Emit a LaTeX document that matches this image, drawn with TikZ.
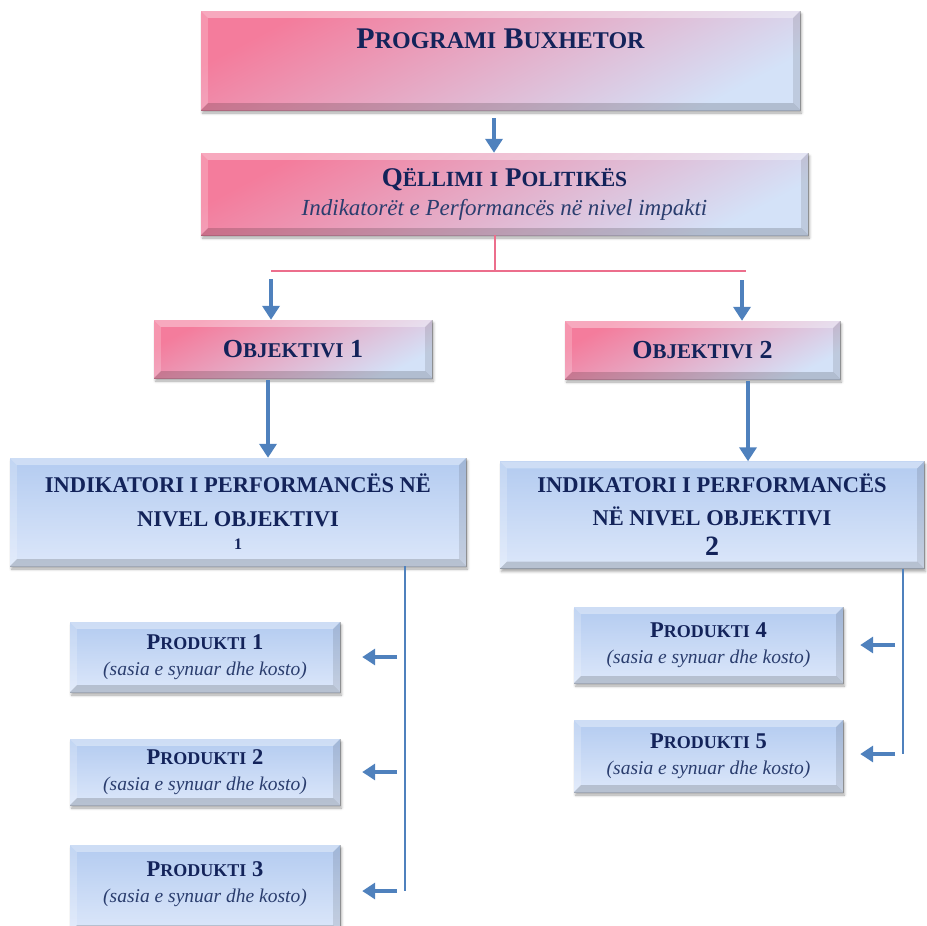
\documentclass[tikz,border=0pt]{standalone}
\usepackage{fontspec}
\setmainfont{Liberation Serif}
\usetikzlibrary{shadows.blur,calc,arrows.meta}
\definecolor{navy}{HTML}{13235A}
\definecolor{subnavy}{HTML}{2A3D6E}
\definecolor{pinkc}{HTML}{F47C9C}
\definecolor{pinkmid}{HTML}{E4A8C8}
\definecolor{lblue}{HTML}{D4E2F8}
\definecolor{tblue}{HTML}{B3CBF0}
\definecolor{bblue}{HTML}{DCE7FA}
\definecolor{arrowc}{HTML}{4F81BD}
\definecolor{linepink}{HTML}{EC6E8C}
\newcommand\scsz{20}
\newcommand\sw[2]{#1{\fontsize{\scsz}{\scsz}\selectfont #2}}
\newcommand\bevel[1]{%
  \fill[white,opacity=.35] (#1.north west) -- (#1.north east) -- ($(#1.north east)+(-7pt,-7pt)$) -- ($(#1.north west)+(7pt,-7pt)$) -- cycle;
  \fill[white,opacity=.2] (#1.north west) -- (#1.south west) -- ($(#1.south west)+(7pt,7pt)$) -- ($(#1.north west)+(7pt,-7pt)$) -- cycle;
  \fill[black,opacity=.10] (#1.north east) -- (#1.south east) -- ($(#1.south east)+(-7pt,7pt)$) -- ($(#1.north east)+(-7pt,-7pt)$) -- cycle;
  \fill[black,opacity=.16] (#1.south west) -- (#1.south east) -- ($(#1.south east)+(-7pt,7pt)$) -- ($(#1.south west)+(7pt,7pt)$) -- cycle;
  \draw[black,opacity=.25,line width=.6pt] (#1.north east) -- (#1.south east) -- (#1.south west);
}
\tikzset{
  box/.style={inner sep=0pt, align=center, text=navy,
    blur shadow={shadow xshift=1.5pt, shadow yshift=-3pt, shadow blur radius=2.5pt, shadow opacity=35}},
  pinkbox/.style={box, top color=pinkc, middle color=pinkmid, bottom color=lblue, shading angle=28},
  bluebox/.style={box, top color=tblue, bottom color=bblue},
  prodbox/.style={bluebox, minimum width=270pt, font=\fontsize{20}{26}\selectfont},
  arr/.style={draw=arrowc, line width=4.5pt, -{Triangle[width=17pt,length=14pt]}},
  sarr/.style={draw=arrowc, line width=4pt, -{Triangle[width=16pt,length=13pt]}},
  tree/.style={draw=arrowc, line width=2.5pt},
  pinkline/.style={draw=linepink, line width=2.2pt}
}
\newcommand\prodtext[1]{{\fontsize{22.5}{26}\selectfont\bfseries\renewcommand\scsz{18}\sw{P}{RODUKTI} #1}\\{\fontsize{19.5}{24}\selectfont\itshape\color{subnavy}(sasia e synuar dhe kosto)}}
\begin{document}
\begin{tikzpicture}[x=1pt,y=1pt]
\useasboundingbox (0,0) rectangle (926,-926);

\node[pinkbox, minimum width=599pt, minimum height=99pt, text height=37pt, text depth=62pt,
      font=\fontsize{30}{34}\selectfont\bfseries] (prog) at (500.5,-60.5)
  {\renewcommand\scsz{24}\sw{P}{ROGRAMI} \sw{B}{UXHETOR}};
\bevel{prog}

\node[pinkbox, minimum width=607pt, minimum height=82pt, font=\fontsize{23}{29}\selectfont] (qel) at (504.5,-194)
  {{\fontsize{27}{30}\selectfont\bfseries\renewcommand\scsz{21.6}\sw{Q}{ËLLIMI} \sw{}{I} \sw{P}{OLITIKËS}}\\
   {\itshape\color{subnavy}Indikatorët e Performancës në nivel impakti}};
\bevel{qel}

\node[pinkbox, minimum width=278pt, minimum height=58pt, font=\fontsize{26}{30}\selectfont\bfseries] (obj1) at (293,-349)
  {\renewcommand\scsz{21}\sw{O}{BJEKTIVI} 1};
\bevel{obj1}
\node[pinkbox, minimum width=275pt, minimum height=58pt, font=\fontsize{26}{30}\selectfont\bfseries] (obj2) at (702.5,-350)
  {\renewcommand\scsz{21}\sw{O}{BJEKTIVI} 2};
\bevel{obj2}

\node[bluebox, minimum width=456pt, minimum height=108pt, font=\fontsize{22.5}{34}\selectfont\bfseries] (ind1) at (238,-512)
  {INDIKATORI I PERFORMANCËS NË\\NIVEL OBJEKTIVI\\[-11pt]{\fontsize{16}{18}\selectfont 1}};
\bevel{ind1}
\node[bluebox, minimum width=424pt, minimum height=107pt, font=\fontsize{22.5}{33}\selectfont\bfseries] (ind2) at (712,-515)
  {INDIKATORI I PERFORMANCËS\\NË NIVEL OBJEKTIVI\\[-3pt]{\fontsize{28}{30}\selectfont 2}};
\bevel{ind2}

\node[prodbox, minimum height=70pt] (p1) at (205,-657) {\prodtext{1}};
\bevel{p1}
\node[prodbox, minimum height=66pt] (p2) at (205,-772) {\prodtext{2}};
\bevel{p2}
\node[prodbox, minimum height=87pt] (p3) at (205,-888.5) {\prodtext{3}\\[-13pt]\mbox{}};
\bevel{p3}
\node[prodbox, minimum width=269pt, minimum height=76pt] (p4) at (708.5,-645) {\prodtext{4}};
\bevel{p4}
\node[prodbox, minimum width=269pt, minimum height=72pt] (p5) at (708.5,-756) {\prodtext{5}};
\bevel{p5}

% connectors
\draw[arr] ([xshift=-6.5pt,yshift=-8pt]prog.south) -- ([xshift=-6.5pt]prog.south |- qel.north);
\coordinate (jn) at (495,-271);
\coordinate (hl) at (271,-271);
\coordinate (hr) at (746,-271);
\coordinate (a2) at (742,-280);
\draw[pinkline] (qel.south -| jn) -- (jn);
\draw[pinkline] (hl) -- (hr);
\draw[arr] ([yshift=-8pt]hl) -- (hl |- obj1.north);
\draw[arr] (a2) -- (a2 |- obj2.north);
\draw[arr] ([xshift=-25pt,yshift=-2pt]obj1.south) -- ([xshift=-25pt]obj1.south |- ind1.north);
\draw[arr] ([xshift=45.5pt,yshift=-2pt]obj2.south) -- ([xshift=45.5pt]obj2.south |- ind2.north);

\coordinate (lb) at (405,-891);
\draw[tree] (ind1.south -| lb) -- (lb);
\draw[sarr] ([xshift=-8pt]lb |- p1.east) -- ([xshift=22pt]p1.east);
\draw[sarr] ([xshift=-8pt]lb |- p2.east) -- ([xshift=22pt]p2.east);
\draw[sarr] ([xshift=-8pt]lb) -- ([xshift=22pt]p3.east |- lb);

\coordinate (rb) at (903,-754);
\draw[tree] (ind2.south -| rb) -- (rb);
\draw[sarr] ([xshift=-8pt]rb |- p4.east) -- ([xshift=17pt]p4.east);
\draw[sarr] ([xshift=-8pt]rb) -- ([xshift=17pt]p5.east |- rb);
\end{tikzpicture}
\end{document}
